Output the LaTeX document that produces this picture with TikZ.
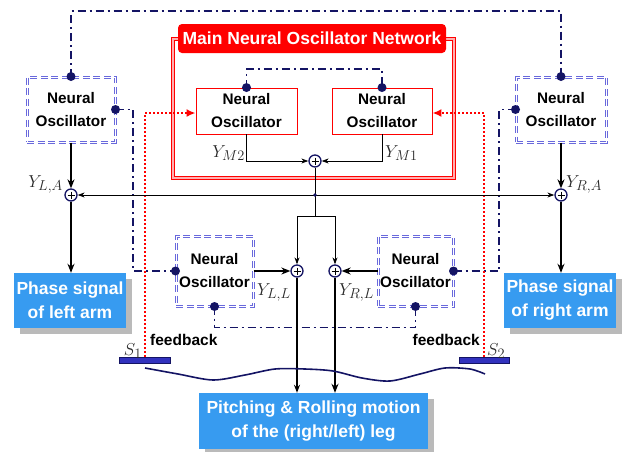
\documentclass[tikz,border=0pt]{standalone}
\usepackage[no-math]{fontspec}
\setmainfont{Liberation Sans}
\usetikzlibrary{arrows.meta,calc,shadows}
\definecolor{navy}{RGB}{20,20,100}
\definecolor{nobox}{RGB}{105,105,220}
\definecolor{phaseblue}{RGB}{55,155,240}
\definecolor{sbarc}{RGB}{50,50,190}
\definecolor{mainpink}{RGB}{255,175,175}
\definecolor{mathgray}{RGB}{40,40,40}
\begin{document}
\begin{tikzpicture}[x=1pt,y=-1pt,
  nofont/.style={font=\bfseries\fontsize{15.3}{23}\selectfont, align=center, inner sep=0pt},
  outerno/.style={nofont, draw=nobox, double=white, double distance=1pt, line width=1pt, dash pattern=on 7pt off 3.5pt},
  innerno/.style={nofont, draw=red, line width=0.9pt, fill=white},
  mainbox/.style={draw=red, double=mainpink, double distance=1.6pt, line width=0.8pt, inner sep=0pt},
  titlebox/.style={fill=red, rounded corners=4pt, text=white, inner sep=0pt, font=\bfseries\fontsize{17.5}{20}\selectfont},
  lblbox/.style={fill=phaseblue, text=white, align=center, inner sep=0pt, font=\bfseries\fontsize{17.5}{24}\selectfont,
    drop shadow={shadow xshift=6pt, shadow yshift=-6pt, fill=black!27, opacity=1}},
  plusnode/.style={circle, draw=navy, line width=1.3pt, fill=white, minimum size=12pt, inner sep=0pt,
    path picture={\draw[black, line width=0.9pt]
      ([yshift=-2.5pt]path picture bounding box.north) -- ([yshift=2.5pt]path picture bounding box.south)
      ([xshift=2.5pt]path picture bounding box.west) -- ([xshift=-2.5pt]path picture bounding box.east);}},
  dotnode/.style={circle, fill=navy, inner sep=0pt, minimum size=9pt},
  dashdot/.style={navy, line width=1.6pt, dash pattern=on 8pt off 4pt on 2pt off 4pt},
  reddot/.style={red, line width=2pt, dash pattern=on 2pt off 2pt, -{Latex[length=9pt,width=8pt]}},
  thinarr/.style={black, line width=0.8pt, -{Stealth[length=7pt,width=5pt]}},
  midarr/.style={black, line width=1.5pt, -{Stealth[length=8pt,width=6pt]}},
  thickarr/.style={black, line width=2pt, -{Stealth[length=9pt,width=7pt]}},
  sbar/.style={fill=sbarc, draw=navy, line width=0.6pt, inner sep=0pt},
  mathlbl/.style={inner sep=0pt, text=mathgray, font=\fontsize{19}{19}\selectfont},
  fbfont/.style={inner sep=0pt, font=\bfseries\fontsize{15.5}{18}\selectfont}
]
\useasboundingbox (0,0) rectangle (622,451);

% main network box and title
\node[mainbox, minimum width=281pt, minimum height=139pt] (MB) at (313.5,108.5) {};
\node[titlebox, minimum width=268pt, minimum height=29pt] (T) at (312,38.5) {Main Neural Oscillator Network};

% oscillators
\node[outerno, minimum width=88pt, minimum height=65pt] (NL) at (71,109.5) {Neural\\Oscillator};
\node[outerno, minimum width=90pt, minimum height=65pt] (NR) at (561,109.5) {Neural\\Oscillator};
\node[innerno, minimum width=101pt, minimum height=46pt] (IL) at (246.5,111) {Neural\\Oscillator};
\node[innerno, minimum width=100pt, minimum height=46pt] (IR) at (382,111) {Neural\\Oscillator};
\node[outerno, minimum width=77pt, minimum height=70pt] (ML) at (214.5,271) {Neural\\Oscillator};
\node[outerno, minimum width=75pt, minimum height=70pt] (MR) at (415.5,271) {Neural\\Oscillator};

% output boxes
\node[lblbox, minimum width=112pt, minimum height=55pt] (PL) at (70,300.5) {Phase signal\\of left arm};
\node[lblbox, minimum width=112pt, minimum height=55pt] (PR) at (560,300.5) {Phase signal\\of right arm};
\node[lblbox, minimum width=229pt, minimum height=56pt] (BB) at (313.5,421) {Pitching \& Rolling motion\\of the (right/left) leg};

% sensors
\node[sbar, minimum width=51pt, minimum height=6pt] (S1) at (145,360) {};
\node[sbar, minimum width=50pt, minimum height=6pt] (S2) at (484,360) {};

% summing points
\node[plusnode] (PM) at (315,161) {};
\node[plusnode] (PLA) at (71,195) {};
\node[plusnode] (PRA) at (561,195) {};
\node[plusnode] (PLL) at (297,271) {};
\node[plusnode] (PRL) at (335,271) {};
\coordinate (J) at (315,195);
\coordinate (SP) at (315,216);
\coordinate (top) at (0,11);
\coordinate (cL) at (133,0);
\coordinate (cR) at (499,0);
\coordinate (cI) at (0,69);

% dash-dot coupling lines
\draw[dashdot] (NL.north) -- (NL.north |- top) -| (NR.north);
\draw[dashdot] (NL.east) -- (NL.east -| cL) |- (ML.west);
\draw[dashdot] (ML.south) -- ++(0,21) -| (MR.south);
\draw[dashdot] (MR.east) -- (MR.east -| cR) |- (NR.west);
\draw[dashdot] (IL.north) -- (IL.north |- cI) -| (IR.north);

% feedback
\draw[reddot] (S1.north) |- ([yshift=-2pt]IL.west);
\draw[reddot] (S2.north) |- ([yshift=-2pt]IR.east);

% signal flow
\draw[thinarr] (IL.south) |- (PM.west);
\draw[thinarr] (IR.south) |- (PM.east);
\draw[black, line width=0.8pt] (PM.south) -- (SP);
\draw[thinarr] (J) -- (PLA.east);
\draw[thinarr] (J) -- (PRA.west);
\draw[thinarr] (SP) -| (PLL.north);
\draw[thinarr] (SP) -| (PRL.north);
\fill[navy] (J) circle (1.8pt);
\draw[thickarr] (NL.south) -- (PLA.north);
\draw[thickarr] (PLA.south) -- (PLA |- PL.north);
\draw[thickarr] (NR.south) -- (PRA.north);
\draw[thickarr] (PRA.south) -- (PRA |- PR.north);
\draw[thickarr] (ML.east) -- (PLL.west);
\draw[thickarr] (MR.west) -- (PRL.east);
\draw[midarr] (PLL.south) -- (PLL |- BB.north);
\draw[thickarr] (PRL.south) -- (PRL |- BB.north);

% coupling dots
\foreach \a in {NL.north,NL.east,NR.north,NR.west,ML.west,ML.south,MR.south,MR.east,IL.north,IR.north}
  \node[dotnode] at (\a) {};

% ground
\draw[navy, line width=1.6pt] plot[smooth] coordinates {(145,368) (178,374) (213,380) (245,375) (275,369) (305,369) (333,371) (362,378) (390,381) (420,374) (445,368) (470,369) (485,374)};

% labels
\node[mathlbl, anchor=base east] at (63,187) {$Y_{L,A}$};
\node[mathlbl, anchor=base west] at (566,187) {$Y_{R,A}$};
\node[mathlbl, anchor=base east] at (245,157) {$Y_{M2}$};
\node[mathlbl, anchor=base west] at (385,157) {$Y_{M1}$};
\node[mathlbl, anchor=base west] at (257,295) {$Y_{L,L}$};
\node[mathlbl, anchor=base west] at (339,295) {$Y_{R,L}$};
\node[mathlbl, anchor=base east] at (142,355) {$S_1$};
\node[mathlbl, anchor=base west] at (487,355) {$S_2$};
\node[fbfont, anchor=base west] at (150,345) {feedback};
\node[fbfont, anchor=base east] at (480,345) {feedback};
\end{tikzpicture}
\end{document}
